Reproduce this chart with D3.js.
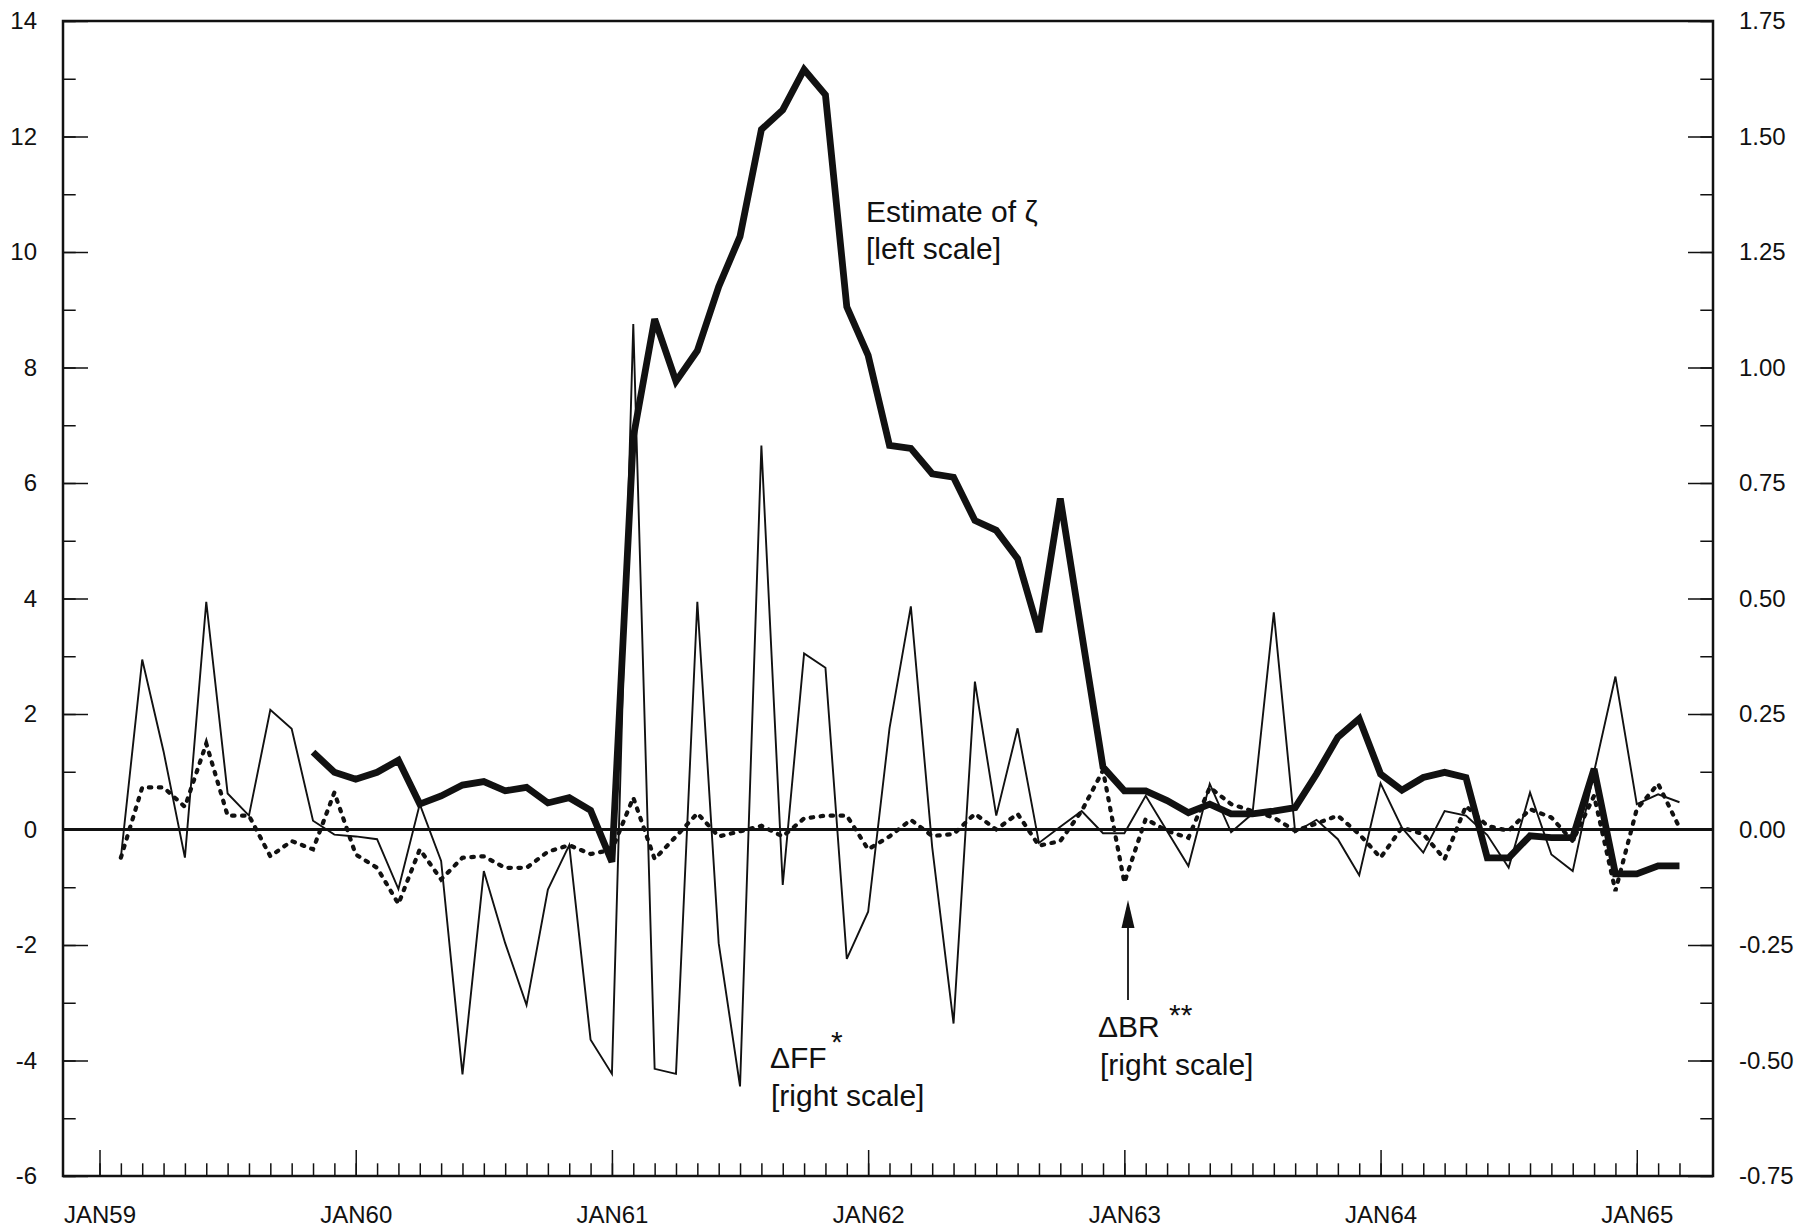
<!DOCTYPE html>
<html>
<head>
<meta charset="utf-8">
<script src="https://cdn.jsdelivr.net/npm/d3@7"></script>
<style>
  body { margin: 0; background: #fff; }
  text { font-family: "Liberation Sans", Arial, Helvetica, sans-serif; fill: #111; }
</style>
</head>
<body>
<script>
// month index 0 = JAN59, ticks run monthly to MAR65
const yearLabels = ["JAN59", "JAN60", "JAN61", "JAN62", "JAN63", "JAN64", "JAN65"];
const yearMonths = [0, 12, 24, 36, 48, 60, 72];
const lastMonth = 74;

// Delta FF* (right scale), starts FEB59
const ffStart = 1;
const ffValues = [
  -0.061, 0.368, 0.169, -0.061, 0.493, 0.078, 0.030, 0.259, 0.218, 0.019, -0.011,
  -0.015, -0.021, -0.129, 0.055, -0.068, -0.530, -0.090, -0.246, -0.380, -0.130, -0.034, -0.455,
  -0.529, 1.094, -0.518, -0.529, 0.493, -0.246, -0.556, 0.831, -0.120, 0.381, 0.350, -0.280,
  -0.178, 0.219, 0.483, -0.038, -0.420, 0.320, 0.030, 0.219, -0.029, 0.006, 0.040, -0.008,
  -0.008, 0.073, -0.003, -0.079, 0.099, -0.006, 0.034, 0.470, -0.006, 0.021, -0.021, -0.099,
  0.100, 0.004, -0.050, 0.040, 0.030, -0.012, -0.083, 0.080, -0.054, -0.090, 0.125, 0.331,
  0.055, 0.076, 0.059
];

// Delta BR** (right scale), starts FEB59
const brStart = 1;
const brValues = [
  -0.061, 0.091, 0.091, 0.049, 0.186, 0.030, 0.030, -0.058, -0.025, -0.043, 0.080,
  -0.054, -0.083, -0.161, -0.043, -0.108, -0.061, -0.058, -0.083, -0.083, -0.048, -0.034, -0.053,
  -0.044, 0.069, -0.064, -0.015, 0.035, -0.015, -0.004, 0.008, -0.015, 0.024, 0.030, 0.030,
  -0.043, -0.015, 0.021, -0.014, -0.010, 0.034, 0.000, 0.034, -0.035, -0.025, 0.040, 0.128,
  -0.115, 0.023, -0.003, -0.018, 0.091, 0.055, 0.040, 0.026, -0.003, 0.013, 0.030, -0.010,
  -0.061, 0.004, -0.010, -0.064, 0.051, 0.008, -0.003, 0.044, 0.026, -0.025, 0.073, -0.133,
  0.044, 0.099, 0.004
];

// estimate of zeta (left scale), starts NOV59
const zetaStart = 10;
const zetaValues = [
  1.34, 0.99,
  0.87, 0.99, 1.20, 0.44, 0.58, 0.77, 0.83, 0.67, 0.73, 0.46, 0.55, 0.33,
  -0.56, 6.79, 8.84, 7.76, 8.29, 9.40, 10.27, 12.12, 12.46, 13.16, 12.72, 9.05,
  8.21, 6.65, 6.60, 6.16, 6.10, 5.35, 5.18, 4.69, 3.42, 5.73, 3.40, 1.08,
  0.67, 0.67, 0.50, 0.29, 0.44, 0.27, 0.27, 0.32, 0.38, 0.96, 1.60, 1.92,
  0.96, 0.68, 0.90, 0.99, 0.90, -0.49, -0.49, -0.11, -0.14, -0.14, 1.05, -0.77,
  -0.77, -0.63, -0.63
];

const W = 1801, H = 1227;
const margin = {left: 63, right: 88, top: 21, bottom: 51};
const width = W - margin.left - margin.right;
const height = H - margin.top - margin.bottom;

const svg = d3.select("body").append("svg")
  .attr("width", W)
  .attr("height", H);

const g = svg.append("g")
  .attr("transform", `translate(${margin.left},${margin.top})`);

const x = d3.scaleLinear().domain([-1.71, 75.57]).range([0, width]);
const yL = d3.scaleLinear().domain([-6, 14]).range([height, 0]);
const yR = d3.scaleLinear().domain([-0.75, 1.75]).range([height, 0]);

function styleAxis(sel, fontSize) {
  sel.select(".domain").remove();
  sel.selectAll(".tick line").attr("stroke", "#111").attr("stroke-width", 1.5);
  sel.selectAll(".tick text")
    .attr("fill", "#111")
    .style("font-size", fontSize + "px")
    .style("font-family", '"Liberation Sans", Arial, Helvetica, sans-serif');
}

// bottom axis: monthly minor ticks, yearly major ticks
g.append("g")
  .attr("transform", `translate(0,${height})`)
  .call(d3.axisBottom(x).tickValues(d3.range(0, lastMonth + 1)).tickSize(-12.7).tickFormat(""))
  .call(styleAxis, 24);
g.append("g")
  .attr("transform", `translate(0,${height})`)
  .call(d3.axisBottom(x).tickValues(yearMonths).tickSize(-26).tickPadding(30)
    .tickFormat((d, i) => yearLabels[i]))
  .call(styleAxis, 24);

// left axis
g.append("g")
  .call(d3.axisLeft(yL).tickValues(d3.range(-6, 15, 1)).tickSize(-12.7).tickFormat(""))
  .call(styleAxis, 24);
g.append("g")
  .call(d3.axisLeft(yL).tickValues(d3.range(-6, 15, 2)).tickSize(-25).tickPadding(26)
    .tickFormat(d => String(d)))
  .call(styleAxis, 24);

// right axis
g.append("g")
  .attr("transform", `translate(${width},0)`)
  .call(d3.axisRight(yR).tickValues(d3.range(-0.75, 1.76, 0.125)).tickSize(-12.7).tickFormat(""))
  .call(styleAxis, 24);
g.append("g")
  .attr("transform", `translate(${width},0)`)
  .call(d3.axisRight(yR).tickValues(d3.range(-0.75, 1.76, 0.25)).tickSize(-25).tickPadding(26)
    .tickFormat(d => d.toFixed(2)))
  .call(styleAxis, 24);

// frame + zero line
g.append("rect")
  .attr("x", 0).attr("y", 0)
  .attr("width", width).attr("height", height)
  .attr("fill", "none")
  .attr("stroke", "#111")
  .attr("stroke-width", 2.5);

g.append("line")
  .attr("x1", 0).attr("x2", width)
  .attr("y1", yL(0)).attr("y2", yL(0))
  .attr("stroke", "#111")
  .attr("stroke-width", 3);

const ffLine = d3.line().x((d, i) => x(ffStart + i)).y(d => yR(d));
const brLine = d3.line().x((d, i) => x(brStart + i)).y(d => yR(d));
const zetaLine = d3.line().x((d, i) => x(zetaStart + i)).y(d => yL(d));

g.append("path")
  .datum(ffValues)
  .attr("d", ffLine)
  .attr("fill", "none")
  .attr("stroke", "#111")
  .attr("stroke-width", 1.9);

g.append("path")
  .datum(brValues)
  .attr("d", brLine)
  .attr("fill", "none")
  .attr("stroke", "#111")
  .attr("stroke-width", 4.2)
  .attr("stroke-linecap", "round")
  .attr("stroke-dasharray", "2.5 7.5");

g.append("path")
  .datum(zetaValues)
  .attr("d", zetaLine)
  .attr("fill", "none")
  .attr("stroke", "#111")
  .attr("stroke-width", 6.8)
  .attr("stroke-linejoin", "miter")
  .attr("stroke-miterlimit", 3);

// annotations
const notes = svg.append("g").style("font-size", "30px");

notes.append("text").attr("x", 866).attr("y", 222).text("Estimate of ζ");
notes.append("text").attr("x", 866).attr("y", 259).text("[left scale]");

notes.append("text").attr("x", 770).attr("y", 1068).text("ΔFF");
notes.append("text").attr("x", 831).attr("y", 1052).text("*");
notes.append("text").attr("x", 771).attr("y", 1106).text("[right scale]");

notes.append("text").attr("x", 1098).attr("y", 1037).text("ΔBR");
notes.append("text").attr("x", 1169).attr("y", 1025).text("**");
notes.append("text").attr("x", 1100).attr("y", 1075).text("[right scale]");

// arrow pointing at the Delta BR dip
notes.append("line")
  .attr("x1", 1128).attr("x2", 1128)
  .attr("y1", 1000).attr("y2", 924)
  .attr("stroke", "#111")
  .attr("stroke-width", 1.8);
notes.append("path")
  .attr("d", "M1128,900 L1121.5,928 L1134.5,928 Z")
  .attr("fill", "#111");
</script>
</body>
</html>
